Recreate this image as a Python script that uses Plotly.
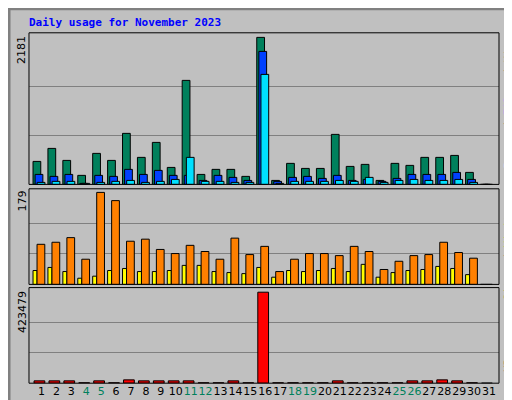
import plotly.graph_objects as go

days = list(range(1, 32))
hits = [341,534,356,134,460,356,757,401,623,252,1543,148,223,223,119,2181,59,312,237,237,742,267,297,59,312,282,401,401,430,178,0]
files = [148,119,148,15,134,119,223,148,208,134,134,59,134,104,59,1973,45,104,119,89,134,59,74,45,89,148,148,148,178,74,0]
pages = [30,45,45,15,30,45,59,30,45,74,401,45,45,30,30,1632,15,45,45,45,59,45,104,30,59,74,59,59,74,30,0]
sites = [78,82,91,49,179,163,84,88,68,60,76,64,49,90,58,74,25,49,60,60,56,74,64,29,45,56,58,82,62,51,0]
visits = [27,33,25,12,16,27,31,25,25,27,37,37,25,23,21,33,14,27,25,27,31,25,39,14,23,27,29,35,31,19,0]
kbytes = [10900,10900,10900,2000,10900,2000,15500,10900,10900,10900,10900,2000,2000,10900,2000,423479,2000,2000,2000,2000,10900,2000,2000,2000,2000,10900,10900,15500,10900,2000,0]
weekend = {4,5,11,12,18,19,25,26}
title = "Daily usage for November 2023"

fig = go.Figure()
ln = dict(color="black", width=1)
def bar(y, color, off, w, ax):
    fig.add_trace(go.Bar(x=days, y=y, offset=off, width=w, marker=dict(color=color, line=ln),
                         xaxis="x", yaxis=ax, showlegend=False))
bar(hits, "#00805c", -0.57, 0.52, "y")
bar(files, "#0040ff", -0.43, 0.52, "y")
bar(pages, "#00e0ff", -0.29, 0.52, "y")
bar(visits, "#ffff00", -0.57, 0.27, "y2")
bar(sites, "#ff8000", -0.3, 0.52, "y2")
bar(kbytes, "#ff0000", -0.5, 0.72, "y3")

def yax(dom, mx, top):
    return dict(domain=dom, range=[0, top], tickvals=[mx/3, 2*mx/3], showticklabels=False,
                gridcolor="#808080", gridwidth=1, zeroline=False, showline=False, anchor="x",
                fixedrange=True, automargin=False)

fig.update_layout(
    width=512, height=400, margin=dict(l=0, r=0, t=0, b=0, autoexpand=False),
    paper_bgcolor="#c0c0c0", plot_bgcolor="#c0c0c0", barmode="overlay",
    font=dict(family="DejaVu Sans Mono", size=11, color="black"),
    xaxis=dict(domain=[0.041, 0.959], range=[0.16, 31.67], tickvals=days,
               ticktext=[f'<span style="color:{"#00805c" if d in weekend else "black"}">{d}</span>' for d in days],
               showgrid=False, zeroline=False, ticks="", anchor="y3", tickangle=0, automargin=False,
               tickfont=dict(family="DejaVu Sans", size=11)),
    yaxis=yax([0.559, 0.938], 2181, 2249),
    yaxis2=yax([0.309, 0.548], 179, 186),
    yaxis3=yax([0.062, 0.301], 423479, 444900),
)
shapes = [dict(type="rect", xref="paper", yref="paper", x0=0.002, x1=0.998, y0=0.002, y1=0.998,
               line=dict(color="#808080", width=3))]
for y0, y1 in [(0.559, 0.938), (0.309, 0.548), (0.062, 0.301)]:
    shapes.append(dict(type="rect", xref="paper", yref="paper", x0=0.041, x1=0.959, y0=y0, y1=y1,
                       line=dict(color="black", width=1)))
fig.update_layout(shapes=shapes)

ann = [dict(text=f"<b>{title}</b>", x=19/512, y=1-15/400, xanchor="left", yanchor="middle",
            font=dict(color="#0000ff", size=11, family="DejaVu Sans Mono"))]
for lab, y in [("2181", 1-26/400), ("179", 1-181/400), ("423479", 1-281/400)]:
    ann.append(dict(text=lab, x=14/512, y=y, textangle=-90, xanchor="center", yanchor="top",
                    font=dict(size=11, family="DejaVu Sans")))
ann.append(dict(text='<span style="color:#00e0ff">Pages</span> / <span style="color:#0040ff">Files</span> / <span style="color:#00805c">Hits</span>',
                x=500/512, y=1-26/400, textangle=-90, xanchor="center", yanchor="top"))
ann.append(dict(text='<span style="color:#ff8000">Sites</span> / <span style="color:#ffff00">Visits</span>',
                x=500/512, y=1-198/400, textangle=-90, xanchor="center", yanchor="top"))
ann.append(dict(text='<span style="color:#ff0000">KBytes</span>',
                x=500/512, y=1-322/400, textangle=-90, xanchor="center", yanchor="top"))
for a in ann:
    a.update(xref="paper", yref="paper", showarrow=False)
fig.update_layout(annotations=ann)
fig.write_html("out.html")
